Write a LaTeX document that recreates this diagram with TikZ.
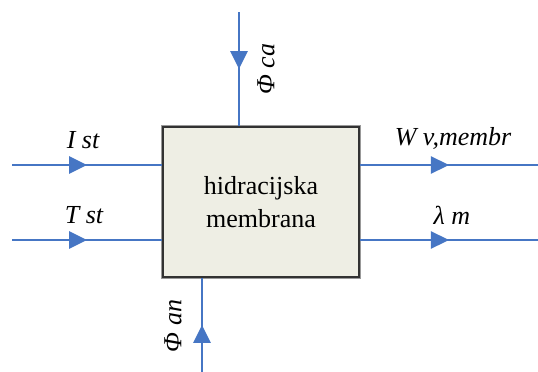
\documentclass[tikz,border=0pt]{standalone}
\usepackage{fontspec}
\setmainfont{Liberation Serif}
\usetikzlibrary{positioning, arrows.meta, decorations.markings}

\definecolor{flowblue}{RGB}{70,118,196}
\definecolor{boxfill}{RGB}{238,238,228}
\definecolor{boxline}{RGB}{50,50,50}

\begin{document}
\begin{tikzpicture}[
    x=1pt, y=-1pt,
    membrane/.style={draw=boxline, line width=1.8pt, fill=boxfill, rectangle, minimum width=196pt, minimum height=150pt, align=center,
        preaction={draw=black!40, line width=4pt},
        font=\rmfamily\fontsize{26}{33}\selectfont},
    flow/.style={draw=flowblue, line width=2.6pt, postaction={decorate},
        decoration={markings, mark=at position 0.5 with {\arrow{Triangle[length=18pt, width=17pt]}}}},
    flowlabel/.style={font=\rmfamily\fontsize{26}{30}\selectfont\itshape, inner sep=0pt}
]
    \useasboundingbox (0,0) rectangle (538,372);

    % --- Membrane block ---
    \node[membrane] (box) at (261,202) {hidracijska\\membrana};

    % --- Free ends of the flows ---
    \coordinate (ist) at (12,165);
    \coordinate (tst) at (12,240);
    \coordinate (wv) at (538,165);
    \coordinate (lam) at (538,240);
    \coordinate (ca) at (239,12);
    \coordinate (an) at (202,372);

    % --- Inputs on the left ---
    \draw[flow] (ist) -- (ist -| box.west);
    \draw[flow] (tst) -- (tst -| box.west);

    % --- Outputs on the right ---
    \draw[flow] (wv -| box.east) -- (wv);
    \draw[flow] (lam -| box.east) -- (lam);

    % --- Cathode and anode streams ---
    \draw[flow] (ca) -- (ca |- box.north);
    \draw[flow] (an) -- (an |- box.south);

    % --- Labels ---
    \node[flowlabel] (list) at (83,140) {I st};
    \node[flowlabel] (ltst) at (84,215) {T st};
    \node[flowlabel] (lwv) at (453,138) {W v,membr};
    \node[flowlabel] (llam) at (452,215) {λ m};
    \node[flowlabel, rotate=90] (lca) at (266,69) {Φ ca};
    \node[flowlabel, rotate=90] (lan) at (173,326) {Φ an};

\end{tikzpicture}
\end{document}
